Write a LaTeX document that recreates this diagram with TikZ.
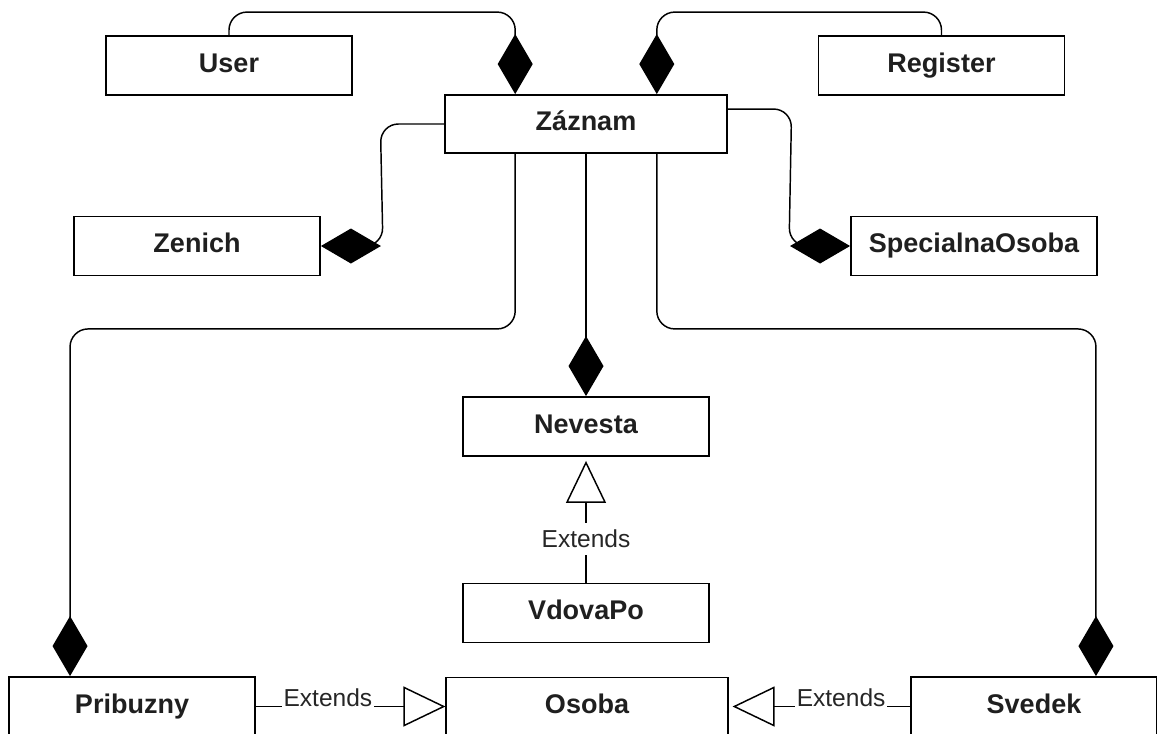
\documentclass[tikz,border=0pt]{standalone}
\usepackage{fontspec}
\setmainfont{Liberation Sans}
\usetikzlibrary{arrows.meta,calc}
\begin{document}
\begin{tikzpicture}[x=0.75pt,y=-0.75pt,
  cls/.style={draw=black, line width=1.4pt, fill=white, inner sep=0pt,
    minimum width=184.5pt, minimum height=44.25pt,
    text height=14.5pt, text depth=4.5pt,
    font=\fontsize{20.25pt}{24pt}\selectfont\bfseries, text=black!88},
  widecls/.style={cls, minimum width=211pt, minimum height=43.5pt},
  link/.style={draw=black, line width=1.1pt},
  comp/.style={link, -{Diamond[length=45pt,width=26.25pt]}},
  gen/.style={link, -{Triangle[open,length=31.5pt,width=30pt]}},
  lblfont/.style={font=\fontsize{18.4pt}{22pt}\selectfont, text=black!85},
  exth/.style={lblfont, anchor=base, fill=white, inner xsep=1pt, inner ysep=1.2pt},
  extv/.style={lblfont, fill=white, inner xsep=2pt, inner ysep=0pt, minimum height=24pt},
  rc/.style={rounded corners=13.5pt}
]
\useasboundingbox (0,0) rectangle (1157,733);
\clip (0,0) rectangle (1157,733);
\fill[white] (0,0) rectangle (1157,733);

% classes
\node[cls]     (usr) at (229,65.5)   {User};
\node[cls]     (reg) at (941.5,65.5) {Register};
\node[widecls] (zaz) at (586,124)    {Záznam};
\node[cls]     (zen) at (197,246)    {Zenich};
\node[cls]     (spc) at (974,246)    {SpecialnaOsoba};
\node[cls]     (nev) at (586,426.5)  {Nevesta};
\node[cls]     (vdo) at (586,613)    {VdovaPo};
\node[cls]     (pri) at (132,706.5)  {Pribuzny};
\node[widecls] (oso) at (587,706.5)  {Osoba};
\node[cls]     (sve) at (1034,706.5) {Svedek};

% attachment points on the box borders
\coordinate (zazTL) at ($(zaz.north west)!0.25!(zaz.north east)$);
\coordinate (zazTR) at ($(zaz.north west)!0.75!(zaz.north east)$);
\coordinate (zazBL) at ($(zaz.south west)!0.25!(zaz.south east)$);
\coordinate (zazBR) at ($(zaz.south west)!0.75!(zaz.south east)$);
\coordinate (zazR)  at ($(zaz.north east)!0.25!(zaz.south east)$);
\coordinate (priT)  at ($(pri.north west)!0.25!(pri.north east)$);
\coordinate (sveT)  at ($(sve.north west)!0.75!(sve.north east)$);

% compositions
\draw[comp, rc] (usr.north) -- ++(0,-23) -| (zazTL);
\draw[comp, rc] (reg.north) -- ++(0,-23) -| (zazTR);
\draw[comp] (zaz.west) [rc] -- ++(-64,0) -- ($(zen.east)+(62,0)$) [sharp corners] -- (zen.east);
\draw[comp] (zazR) [rc] -- ++(64,0) -- ($(spc.west)+(-61,0)$) [sharp corners] -- (spc.west);
\draw[comp, rc] (zazBL) -- ++(0,175) -| (priT);
\draw[comp, rc] (zazBR) -- ++(0,175) -| (sveT);
\draw[comp] (zaz.south) -- (nev.north);

% generalisations
\draw[gen, shorten >=3pt] (vdo.north) -- node[extv, pos=0.35] {Extends} (nev.south);
\draw[gen] (pri.east) -- node[exth, pos=0.38] {Extends} (oso.west);
\draw[gen, shorten >=3pt] (sve.west) -- node[exth, pos=0.38] {Extends} (oso.east);
\end{tikzpicture}
\end{document}
